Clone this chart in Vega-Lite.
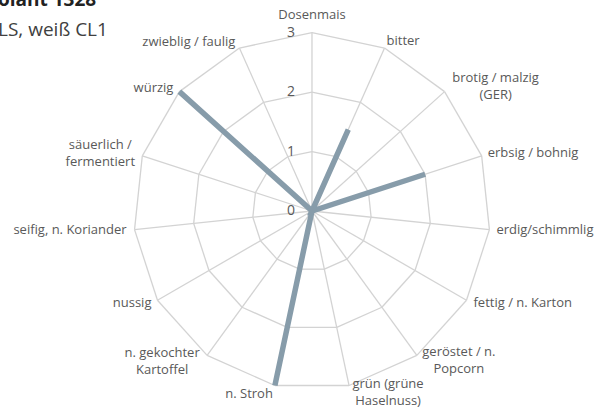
{
  "$schema": "https://vega.github.io/schema/vega-lite/v6.json",
  "width": 595,
  "height": 410,
  "autosize": {"type": "none"},
  "padding": 0,
  "background": "white",
  "config": {"view": {"stroke": null}, "text": {"lineBreak": "\n"}},
  "title": {
    "text": "olant 1328",
    "subtitle": "LS, weiß CL1",
    "anchor": "start",
    "frame": "group",
    "orient": "top",
    "offset": -40,
    "dx": -2,
    "font": "Open Sans",
    "fontSize": 19,
    "fontWeight": "bold",
    "color": "#222222",
    "subtitleFont": "Open Sans",
    "subtitleFontSize": 19,
    "subtitleColor": "#404040",
    "subtitlePadding": 11
  },
  "datasets": {
    "axes": [
      {"idx": 0, "label": "Dosenmais", "value": 0},
      {"idx": 1, "label": "bitter", "value": 1.5},
      {"idx": 2, "label": "brotig / malzig\n(GER)", "value": 0},
      {"idx": 3, "label": "erbsig / bohnig", "value": 2},
      {"idx": 4, "label": "erdig/schimmlig", "value": 0},
      {"idx": 5, "label": "fettig / n. Karton", "value": 0},
      {"idx": 6, "label": "geröstet / n.\nPopcorn", "value": 0},
      {"idx": 7, "label": "grün (grüne\nHaselnuss)", "value": 0},
      {"idx": 8, "label": "n. Stroh", "value": 3},
      {"idx": 9, "label": "n. gekochter\nKartoffel", "value": 0},
      {"idx": 10, "label": "nussig", "value": 0},
      {"idx": 11, "label": "seifig, n. Koriander", "value": 0},
      {"idx": 12, "label": "säuerlich /\nfermentiert", "value": 0},
      {"idx": 13, "label": "würzig", "value": 3},
      {"idx": 14, "label": "zwieblig / faulig", "value": 0}
    ],
    "grid": [
      {"level": 1, "idx": 0}, {"level": 1, "idx": 1}, {"level": 1, "idx": 2}, {"level": 1, "idx": 3}, {"level": 1, "idx": 4},
      {"level": 1, "idx": 5}, {"level": 1, "idx": 6}, {"level": 1, "idx": 7}, {"level": 1, "idx": 8}, {"level": 1, "idx": 9},
      {"level": 1, "idx": 10}, {"level": 1, "idx": 11}, {"level": 1, "idx": 12}, {"level": 1, "idx": 13}, {"level": 1, "idx": 14},
      {"level": 2, "idx": 0}, {"level": 2, "idx": 1}, {"level": 2, "idx": 2}, {"level": 2, "idx": 3}, {"level": 2, "idx": 4},
      {"level": 2, "idx": 5}, {"level": 2, "idx": 6}, {"level": 2, "idx": 7}, {"level": 2, "idx": 8}, {"level": 2, "idx": 9},
      {"level": 2, "idx": 10}, {"level": 2, "idx": 11}, {"level": 2, "idx": 12}, {"level": 2, "idx": 13}, {"level": 2, "idx": 14},
      {"level": 3, "idx": 0}, {"level": 3, "idx": 1}, {"level": 3, "idx": 2}, {"level": 3, "idx": 3}, {"level": 3, "idx": 4},
      {"level": 3, "idx": 5}, {"level": 3, "idx": 6}, {"level": 3, "idx": 7}, {"level": 3, "idx": 8}, {"level": 3, "idx": 9},
      {"level": 3, "idx": 10}, {"level": 3, "idx": 11}, {"level": 3, "idx": 12}, {"level": 3, "idx": 13}, {"level": 3, "idx": 14}
    ],
    "ticks": [{"level": 0}, {"level": 1}, {"level": 2}, {"level": 3}]
  },
  "encoding": {
    "x": {"field": "px", "type": "quantitative", "scale": {"domain": [-5.246, 4.759], "nice": false, "zero": false}, "axis": null},
    "y": {"field": "py", "type": "quantitative", "scale": {"domain": [-3.346, 3.548], "nice": false, "zero": false}, "axis": null}
  },
  "layer": [
    {
      "data": {"name": "grid"},
      "transform": [
        {"calculate": "datum.idx * 2 * PI / 15", "as": "a"},
        {"calculate": "(datum.idx + 1) * 2 * PI / 15", "as": "a2"},
        {"calculate": "datum.level * sin(datum.a)", "as": "px"},
        {"calculate": "datum.level * cos(datum.a)", "as": "py"},
        {"calculate": "datum.level * sin(datum.a2)", "as": "px2"},
        {"calculate": "datum.level * cos(datum.a2)", "as": "py2"}
      ],
      "mark": {"type": "rule", "color": "#d3d3d3", "strokeWidth": 1.3},
      "encoding": {"x2": {"field": "px2"}, "y2": {"field": "py2"}}
    },
    {
      "data": {"name": "axes"},
      "transform": [
        {"calculate": "datum.idx * 2 * PI / 15", "as": "a"},
        {"calculate": "0", "as": "px"},
        {"calculate": "0", "as": "py"},
        {"calculate": "3 * sin(datum.a)", "as": "px2"},
        {"calculate": "3 * cos(datum.a)", "as": "py2"}
      ],
      "mark": {"type": "rule", "color": "#d3d3d3", "strokeWidth": 1.3},
      "encoding": {"x2": {"field": "px2"}, "y2": {"field": "py2"}}
    },
    {
      "data": {"name": "axes"},
      "transform": [
        {"calculate": "datum.idx * 2 * PI / 15", "as": "a"},
        {"calculate": "datum.value * sin(datum.a)", "as": "px"},
        {"calculate": "datum.value * cos(datum.a)", "as": "py"}
      ],
      "mark": {"type": "line", "color": "#879caa", "strokeWidth": 5.5, "strokeJoin": "miter", "strokeMiterLimit": 20},
      "encoding": {"order": {"field": "idx", "type": "quantitative"}}
    },
    {
      "data": {"name": "ticks"},
      "transform": [
        {"calculate": "0", "as": "px"},
        {"calculate": "datum.level", "as": "py"}
      ],
      "mark": {"type": "text", "align": "right", "baseline": "middle", "dx": -17, "dy": 0, "font": "Open Sans", "fontSize": 14, "color": "#595959"},
      "encoding": {"text": {"field": "level", "type": "quantitative"}}
    },
    {
      "data": {"name": "axes"},
      "transform": [
        {"calculate": "datum.idx * 2 * PI / 15", "as": "a"},
        {"calculate": "3 * sin(datum.a)", "as": "px"},
        {"calculate": "3 * cos(datum.a)", "as": "py"}
      ],
      "layer": [
        {"transform": [{"filter": "datum.idx == 0"}], "mark": {"type": "text", "align": "center", "baseline": "middle", "dx": 0, "dy": -18, "font": "Open Sans", "fontSize": 13, "color": "#595959", "lineHeight": 17}, "encoding": {"text": {"field": "label"}}},
        {"transform": [{"filter": "datum.idx == 1"}], "mark": {"type": "text", "align": "left", "baseline": "middle", "dx": 2, "dy": -7, "font": "Open Sans", "fontSize": 13, "color": "#595959", "lineHeight": 17}, "encoding": {"text": {"field": "label"}}},
        {"transform": [{"filter": "datum.idx == 2"}], "mark": {"type": "text", "align": "center", "baseline": "middle", "dx": 51, "dy": -14, "font": "Open Sans", "fontSize": 13, "color": "#595959", "lineHeight": 17}, "encoding": {"text": {"field": "label"}}},
        {"transform": [{"filter": "datum.idx == 3"}], "mark": {"type": "text", "align": "left", "baseline": "middle", "dx": 6, "dy": -3, "font": "Open Sans", "fontSize": 13, "color": "#595959", "lineHeight": 17}, "encoding": {"text": {"field": "label"}}},
        {"transform": [{"filter": "datum.idx == 4"}], "mark": {"type": "text", "align": "left", "baseline": "middle", "dx": 7, "dy": 0, "font": "Open Sans", "fontSize": 13, "color": "#595959", "lineHeight": 17}, "encoding": {"text": {"field": "label"}}},
        {"transform": [{"filter": "datum.idx == 5"}], "mark": {"type": "text", "align": "left", "baseline": "middle", "dx": 7, "dy": 3, "font": "Open Sans", "fontSize": 13, "color": "#595959", "lineHeight": 17}, "encoding": {"text": {"field": "label"}}},
        {"transform": [{"filter": "datum.idx == 6"}], "mark": {"type": "text", "align": "center", "baseline": "middle", "dx": 42, "dy": -3, "font": "Open Sans", "fontSize": 13, "color": "#595959", "lineHeight": 17}, "encoding": {"text": {"field": "label"}}},
        {"transform": [{"filter": "datum.idx == 7"}], "mark": {"type": "text", "align": "center", "baseline": "middle", "dx": 39, "dy": -2, "font": "Open Sans", "fontSize": 13, "color": "#595959", "lineHeight": 17}, "encoding": {"text": {"field": "label"}}},
        {"transform": [{"filter": "datum.idx == 8"}], "mark": {"type": "text", "align": "right", "baseline": "middle", "dx": -2, "dy": 8, "font": "Open Sans", "fontSize": 13, "color": "#595959", "lineHeight": 17}, "encoding": {"text": {"field": "label"}}},
        {"transform": [{"filter": "datum.idx == 9"}], "mark": {"type": "text", "align": "center", "baseline": "middle", "dx": -45, "dy": -2, "font": "Open Sans", "fontSize": 13, "color": "#595959", "lineHeight": 17}, "encoding": {"text": {"field": "label"}}},
        {"transform": [{"filter": "datum.idx == 10"}], "mark": {"type": "text", "align": "right", "baseline": "middle", "dx": -6, "dy": 3, "font": "Open Sans", "fontSize": 13, "color": "#595959", "lineHeight": 17}, "encoding": {"text": {"field": "label"}}},
        {"transform": [{"filter": "datum.idx == 11"}], "mark": {"type": "text", "align": "right", "baseline": "middle", "dx": -8, "dy": 0, "font": "Open Sans", "fontSize": 13, "color": "#595959", "lineHeight": 17}, "encoding": {"text": {"field": "label"}}},
        {"transform": [{"filter": "datum.idx == 12"}], "mark": {"type": "text", "align": "center", "baseline": "middle", "dx": -42, "dy": -11, "font": "Open Sans", "fontSize": 13, "color": "#595959", "lineHeight": 17}, "encoding": {"text": {"field": "label"}}},
        {"transform": [{"filter": "datum.idx == 13"}], "mark": {"type": "text", "align": "right", "baseline": "middle", "dx": -6, "dy": -4, "font": "Open Sans", "fontSize": 13, "color": "#595959", "lineHeight": 17}, "encoding": {"text": {"field": "label"}}},
        {"transform": [{"filter": "datum.idx == 14"}], "mark": {"type": "text", "align": "right", "baseline": "middle", "dx": -4, "dy": -6, "font": "Open Sans", "fontSize": 13, "color": "#595959", "lineHeight": 17}, "encoding": {"text": {"field": "label"}}}
      ]
    }
  ]
}
